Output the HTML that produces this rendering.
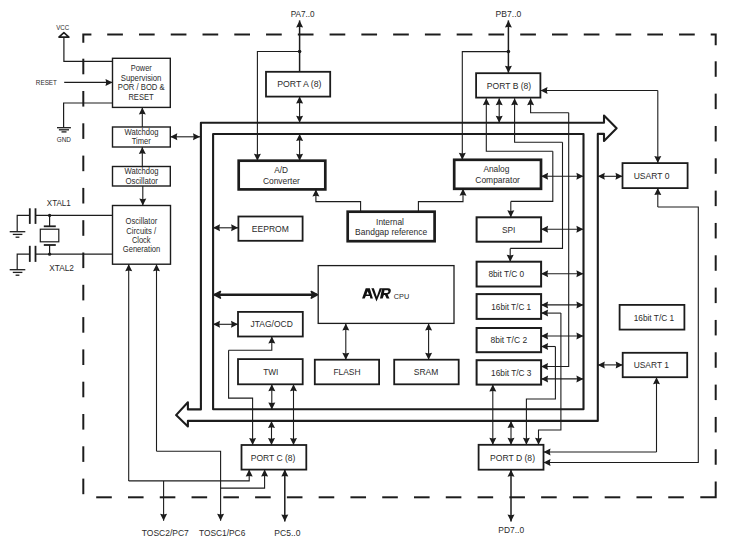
<!DOCTYPE html>
<html><head><meta charset="utf-8"><style>
html,body{margin:0;padding:0;background:#fff;}
svg{display:block;}
text{font-family:"Liberation Sans",sans-serif;}
</style></head><body>
<svg width="734" height="544" viewBox="0 0 734 544">
<rect width="734" height="544" fill="#fff"/>
<path d="M83.30,42.80 L83.30,34.50 L91.40,34.50" fill="none" stroke="#1c1c1c" stroke-width="2.0" stroke-linejoin="miter" stroke-linecap="butt"/>
<path d="M107.20,34.50 L122.90,34.50" fill="none" stroke="#1c1c1c" stroke-width="2.0" stroke-linejoin="miter" stroke-linecap="butt"/>
<path d="M138.97,34.50 L154.67,34.50" fill="none" stroke="#1c1c1c" stroke-width="2.0" stroke-linejoin="miter" stroke-linecap="butt"/>
<path d="M170.74,34.50 L186.44,34.50" fill="none" stroke="#1c1c1c" stroke-width="2.0" stroke-linejoin="miter" stroke-linecap="butt"/>
<path d="M202.51,34.50 L218.21,34.50" fill="none" stroke="#1c1c1c" stroke-width="2.0" stroke-linejoin="miter" stroke-linecap="butt"/>
<path d="M234.28,34.50 L249.98,34.50" fill="none" stroke="#1c1c1c" stroke-width="2.0" stroke-linejoin="miter" stroke-linecap="butt"/>
<path d="M266.05,34.50 L281.75,34.50" fill="none" stroke="#1c1c1c" stroke-width="2.0" stroke-linejoin="miter" stroke-linecap="butt"/>
<path d="M297.82,34.50 L313.52,34.50" fill="none" stroke="#1c1c1c" stroke-width="2.0" stroke-linejoin="miter" stroke-linecap="butt"/>
<path d="M329.59,34.50 L345.29,34.50" fill="none" stroke="#1c1c1c" stroke-width="2.0" stroke-linejoin="miter" stroke-linecap="butt"/>
<path d="M361.36,34.50 L377.06,34.50" fill="none" stroke="#1c1c1c" stroke-width="2.0" stroke-linejoin="miter" stroke-linecap="butt"/>
<path d="M393.13,34.50 L408.83,34.50" fill="none" stroke="#1c1c1c" stroke-width="2.0" stroke-linejoin="miter" stroke-linecap="butt"/>
<path d="M424.90,34.50 L440.60,34.50" fill="none" stroke="#1c1c1c" stroke-width="2.0" stroke-linejoin="miter" stroke-linecap="butt"/>
<path d="M456.67,34.50 L472.37,34.50" fill="none" stroke="#1c1c1c" stroke-width="2.0" stroke-linejoin="miter" stroke-linecap="butt"/>
<path d="M488.44,34.50 L504.14,34.50" fill="none" stroke="#1c1c1c" stroke-width="2.0" stroke-linejoin="miter" stroke-linecap="butt"/>
<path d="M520.21,34.50 L535.91,34.50" fill="none" stroke="#1c1c1c" stroke-width="2.0" stroke-linejoin="miter" stroke-linecap="butt"/>
<path d="M551.98,34.50 L567.68,34.50" fill="none" stroke="#1c1c1c" stroke-width="2.0" stroke-linejoin="miter" stroke-linecap="butt"/>
<path d="M583.75,34.50 L599.45,34.50" fill="none" stroke="#1c1c1c" stroke-width="2.0" stroke-linejoin="miter" stroke-linecap="butt"/>
<path d="M615.52,34.50 L631.22,34.50" fill="none" stroke="#1c1c1c" stroke-width="2.0" stroke-linejoin="miter" stroke-linecap="butt"/>
<path d="M647.29,34.50 L662.99,34.50" fill="none" stroke="#1c1c1c" stroke-width="2.0" stroke-linejoin="miter" stroke-linecap="butt"/>
<path d="M679.06,34.50 L694.76,34.50" fill="none" stroke="#1c1c1c" stroke-width="2.0" stroke-linejoin="miter" stroke-linecap="butt"/>
<path d="M710.70,34.50 L715.70,34.50 L715.70,45.20" fill="none" stroke="#1c1c1c" stroke-width="2.0" stroke-linejoin="miter" stroke-linecap="butt"/>
<path d="M715.70,61.30 L715.70,76.80" fill="none" stroke="#1c1c1c" stroke-width="2.0" stroke-linejoin="miter" stroke-linecap="butt"/>
<path d="M715.70,93.63 L715.70,109.13" fill="none" stroke="#1c1c1c" stroke-width="2.0" stroke-linejoin="miter" stroke-linecap="butt"/>
<path d="M715.70,125.96 L715.70,141.46" fill="none" stroke="#1c1c1c" stroke-width="2.0" stroke-linejoin="miter" stroke-linecap="butt"/>
<path d="M715.70,158.29 L715.70,173.79" fill="none" stroke="#1c1c1c" stroke-width="2.0" stroke-linejoin="miter" stroke-linecap="butt"/>
<path d="M715.70,190.62 L715.70,206.12" fill="none" stroke="#1c1c1c" stroke-width="2.0" stroke-linejoin="miter" stroke-linecap="butt"/>
<path d="M715.70,222.95 L715.70,238.45" fill="none" stroke="#1c1c1c" stroke-width="2.0" stroke-linejoin="miter" stroke-linecap="butt"/>
<path d="M715.70,255.28 L715.70,270.78" fill="none" stroke="#1c1c1c" stroke-width="2.0" stroke-linejoin="miter" stroke-linecap="butt"/>
<path d="M715.70,287.61 L715.70,303.11" fill="none" stroke="#1c1c1c" stroke-width="2.0" stroke-linejoin="miter" stroke-linecap="butt"/>
<path d="M715.70,319.94 L715.70,335.44" fill="none" stroke="#1c1c1c" stroke-width="2.0" stroke-linejoin="miter" stroke-linecap="butt"/>
<path d="M715.70,352.27 L715.70,367.77" fill="none" stroke="#1c1c1c" stroke-width="2.0" stroke-linejoin="miter" stroke-linecap="butt"/>
<path d="M715.70,384.60 L715.70,400.10" fill="none" stroke="#1c1c1c" stroke-width="2.0" stroke-linejoin="miter" stroke-linecap="butt"/>
<path d="M715.70,416.93 L715.70,432.43" fill="none" stroke="#1c1c1c" stroke-width="2.0" stroke-linejoin="miter" stroke-linecap="butt"/>
<path d="M715.70,449.26 L715.70,464.76" fill="none" stroke="#1c1c1c" stroke-width="2.0" stroke-linejoin="miter" stroke-linecap="butt"/>
<path d="M715.70,481.60 L715.70,497.30 L700.30,497.30" fill="none" stroke="#1c1c1c" stroke-width="2.0" stroke-linejoin="miter" stroke-linecap="butt"/>
<path d="M96.20,497.30 L111.80,497.30" fill="none" stroke="#1c1c1c" stroke-width="2.0" stroke-linejoin="miter" stroke-linecap="butt"/>
<path d="M127.98,497.30 L143.58,497.30" fill="none" stroke="#1c1c1c" stroke-width="2.0" stroke-linejoin="miter" stroke-linecap="butt"/>
<path d="M159.76,497.30 L175.36,497.30" fill="none" stroke="#1c1c1c" stroke-width="2.0" stroke-linejoin="miter" stroke-linecap="butt"/>
<path d="M191.54,497.30 L207.14,497.30" fill="none" stroke="#1c1c1c" stroke-width="2.0" stroke-linejoin="miter" stroke-linecap="butt"/>
<path d="M223.32,497.30 L238.92,497.30" fill="none" stroke="#1c1c1c" stroke-width="2.0" stroke-linejoin="miter" stroke-linecap="butt"/>
<path d="M255.10,497.30 L270.70,497.30" fill="none" stroke="#1c1c1c" stroke-width="2.0" stroke-linejoin="miter" stroke-linecap="butt"/>
<path d="M286.88,497.30 L302.48,497.30" fill="none" stroke="#1c1c1c" stroke-width="2.0" stroke-linejoin="miter" stroke-linecap="butt"/>
<path d="M318.66,497.30 L334.26,497.30" fill="none" stroke="#1c1c1c" stroke-width="2.0" stroke-linejoin="miter" stroke-linecap="butt"/>
<path d="M350.44,497.30 L366.04,497.30" fill="none" stroke="#1c1c1c" stroke-width="2.0" stroke-linejoin="miter" stroke-linecap="butt"/>
<path d="M382.22,497.30 L397.82,497.30" fill="none" stroke="#1c1c1c" stroke-width="2.0" stroke-linejoin="miter" stroke-linecap="butt"/>
<path d="M414.00,497.30 L429.60,497.30" fill="none" stroke="#1c1c1c" stroke-width="2.0" stroke-linejoin="miter" stroke-linecap="butt"/>
<path d="M445.78,497.30 L461.38,497.30" fill="none" stroke="#1c1c1c" stroke-width="2.0" stroke-linejoin="miter" stroke-linecap="butt"/>
<path d="M477.56,497.30 L493.16,497.30" fill="none" stroke="#1c1c1c" stroke-width="2.0" stroke-linejoin="miter" stroke-linecap="butt"/>
<path d="M509.34,497.30 L524.94,497.30" fill="none" stroke="#1c1c1c" stroke-width="2.0" stroke-linejoin="miter" stroke-linecap="butt"/>
<path d="M541.12,497.30 L556.72,497.30" fill="none" stroke="#1c1c1c" stroke-width="2.0" stroke-linejoin="miter" stroke-linecap="butt"/>
<path d="M572.90,497.30 L588.50,497.30" fill="none" stroke="#1c1c1c" stroke-width="2.0" stroke-linejoin="miter" stroke-linecap="butt"/>
<path d="M604.68,497.30 L620.28,497.30" fill="none" stroke="#1c1c1c" stroke-width="2.0" stroke-linejoin="miter" stroke-linecap="butt"/>
<path d="M636.46,497.30 L652.06,497.30" fill="none" stroke="#1c1c1c" stroke-width="2.0" stroke-linejoin="miter" stroke-linecap="butt"/>
<path d="M668.24,497.30 L683.84,497.30" fill="none" stroke="#1c1c1c" stroke-width="2.0" stroke-linejoin="miter" stroke-linecap="butt"/>
<path d="M83.30,58.70 L83.30,74.30" fill="none" stroke="#1c1c1c" stroke-width="2.0" stroke-linejoin="miter" stroke-linecap="butt"/>
<path d="M83.30,91.00 L83.30,106.60" fill="none" stroke="#1c1c1c" stroke-width="2.0" stroke-linejoin="miter" stroke-linecap="butt"/>
<path d="M83.30,123.30 L83.30,138.90" fill="none" stroke="#1c1c1c" stroke-width="2.0" stroke-linejoin="miter" stroke-linecap="butt"/>
<path d="M83.30,155.60 L83.30,171.20" fill="none" stroke="#1c1c1c" stroke-width="2.0" stroke-linejoin="miter" stroke-linecap="butt"/>
<path d="M83.30,187.90 L83.30,203.50" fill="none" stroke="#1c1c1c" stroke-width="2.0" stroke-linejoin="miter" stroke-linecap="butt"/>
<path d="M83.30,220.20 L83.30,235.80" fill="none" stroke="#1c1c1c" stroke-width="2.0" stroke-linejoin="miter" stroke-linecap="butt"/>
<path d="M83.30,252.50 L83.30,268.10" fill="none" stroke="#1c1c1c" stroke-width="2.0" stroke-linejoin="miter" stroke-linecap="butt"/>
<path d="M83.30,284.80 L83.30,300.40" fill="none" stroke="#1c1c1c" stroke-width="2.0" stroke-linejoin="miter" stroke-linecap="butt"/>
<path d="M83.30,317.10 L83.30,332.70" fill="none" stroke="#1c1c1c" stroke-width="2.0" stroke-linejoin="miter" stroke-linecap="butt"/>
<path d="M83.30,349.40 L83.30,365.00" fill="none" stroke="#1c1c1c" stroke-width="2.0" stroke-linejoin="miter" stroke-linecap="butt"/>
<path d="M83.30,381.70 L83.30,397.30" fill="none" stroke="#1c1c1c" stroke-width="2.0" stroke-linejoin="miter" stroke-linecap="butt"/>
<path d="M83.30,414.00 L83.30,429.60" fill="none" stroke="#1c1c1c" stroke-width="2.0" stroke-linejoin="miter" stroke-linecap="butt"/>
<path d="M83.30,446.30 L83.30,461.90" fill="none" stroke="#1c1c1c" stroke-width="2.0" stroke-linejoin="miter" stroke-linecap="butt"/>
<path d="M83.30,478.60 L83.30,494.20" fill="none" stroke="#1c1c1c" stroke-width="2.0" stroke-linejoin="miter" stroke-linecap="butt"/>
<path d="M63.9,32.6 L68.9,37.1 L58.9,37.1 Z" fill="#fff" stroke="#1c1c1c" stroke-width="1.6" stroke-linejoin="round"/>
<path d="M63.90,37.10 L63.90,61.30 L112.50,61.30" fill="none" stroke="#1c1c1c" stroke-width="1.2" stroke-linejoin="miter" stroke-linecap="butt"/>
<path d="M64.20,82.40 L112.50,82.40" fill="none" stroke="#1c1c1c" stroke-width="1.2" stroke-linejoin="miter" stroke-linecap="butt"/>
<path d="M112.50,82.40 L105.50,85.90 L106.20,82.40 L105.50,78.90 Z" fill="#1c1c1c"/>
<path d="M112.50,103.00 L63.60,103.00 L63.60,127.60" fill="none" stroke="#1c1c1c" stroke-width="1.2" stroke-linejoin="miter" stroke-linecap="butt"/>
<path d="M57.00,127.70 L70.90,127.70" fill="none" stroke="#1c1c1c" stroke-width="1.3" stroke-linejoin="miter" stroke-linecap="butt"/>
<path d="M58.90,129.80 L69.00,129.80" fill="none" stroke="#1c1c1c" stroke-width="1.3" stroke-linejoin="miter" stroke-linecap="butt"/>
<path d="M61.50,131.90 L66.50,131.90" fill="none" stroke="#1c1c1c" stroke-width="1.3" stroke-linejoin="miter" stroke-linecap="butt"/>
<text x="56.20" y="29.77" font-size="6.3" textLength="13.00" lengthAdjust="spacingAndGlyphs" fill="#2a2a2a">VCC</text>
<text x="35.80" y="84.82" font-size="6.3" textLength="21.20" lengthAdjust="spacingAndGlyphs" fill="#2a2a2a">RESET</text>
<text x="56.70" y="141.82" font-size="6.3" textLength="14.20" lengthAdjust="spacingAndGlyphs" fill="#2a2a2a">GND</text>
<rect x="112.50" y="58.30" width="57.80" height="49.10" fill="none" stroke="#1c1c1c" stroke-width="1.4"/>
<text x="130.70" y="71.30" font-size="8.6" textLength="21.10" lengthAdjust="spacingAndGlyphs" fill="#2a2a2a">Power</text>
<text x="120.80" y="80.70" font-size="8.6" textLength="40.60" lengthAdjust="spacingAndGlyphs" fill="#2a2a2a">Supervision</text>
<text x="117.80" y="90.20" font-size="8.6" textLength="46.80" lengthAdjust="spacingAndGlyphs" fill="#2a2a2a">POR / BOD &amp;</text>
<text x="128.40" y="99.90" font-size="8.6" textLength="25.20" lengthAdjust="spacingAndGlyphs" fill="#2a2a2a">RESET</text>
<rect x="112.50" y="127.00" width="57.80" height="20.00" fill="none" stroke="#1c1c1c" stroke-width="1.4"/>
<text x="124.50" y="135.30" font-size="8.6" textLength="34.10" lengthAdjust="spacingAndGlyphs" fill="#2a2a2a">Watchdog</text>
<text x="131.70" y="144.30" font-size="8.6" textLength="19.10" lengthAdjust="spacingAndGlyphs" fill="#2a2a2a">Timer</text>
<rect x="112.50" y="166.50" width="57.80" height="19.50" fill="none" stroke="#1c1c1c" stroke-width="1.4"/>
<text x="124.50" y="174.10" font-size="8.6" textLength="34.10" lengthAdjust="spacingAndGlyphs" fill="#2a2a2a">Watchdog</text>
<text x="125.40" y="183.90" font-size="8.6" textLength="32.60" lengthAdjust="spacingAndGlyphs" fill="#2a2a2a">Oscillator</text>
<rect x="112.50" y="205.50" width="58.00" height="58.70" fill="none" stroke="#1c1c1c" stroke-width="1.4"/>
<text x="125.50" y="224.40" font-size="8.6" textLength="31.70" lengthAdjust="spacingAndGlyphs" fill="#2a2a2a">Oscillator</text>
<text x="126.30" y="233.50" font-size="8.6" textLength="29.80" lengthAdjust="spacingAndGlyphs" fill="#2a2a2a">Circuits /</text>
<text x="131.90" y="243.10" font-size="8.6" textLength="18.68" lengthAdjust="spacingAndGlyphs" fill="#2a2a2a">Clock</text>
<text x="122.80" y="252.20" font-size="8.6" textLength="37.50" lengthAdjust="spacingAndGlyphs" fill="#2a2a2a">Generation</text>
<path d="M142.30,127.00 L142.30,107.40" fill="none" stroke="#1c1c1c" stroke-width="1.1" stroke-linejoin="miter" stroke-linecap="butt"/>
<path d="M142.30,107.40 L145.80,114.40 L142.30,113.70 L138.80,114.40 Z" fill="#1c1c1c"/>
<path d="M142.30,166.50 L142.30,147.00" fill="none" stroke="#1c1c1c" stroke-width="1.1" stroke-linejoin="miter" stroke-linecap="butt"/>
<path d="M142.30,147.00 L145.80,154.00 L142.30,153.30 L138.80,154.00 Z" fill="#1c1c1c"/>
<path d="M142.80,186.00 L142.80,205.50" fill="none" stroke="#1c1c1c" stroke-width="1.1" stroke-linejoin="miter" stroke-linecap="butt"/>
<path d="M142.80,205.50 L139.30,198.50 L142.80,199.20 L146.30,198.50 Z" fill="#1c1c1c"/>
<path d="M170.30,136.80 L200.00,136.80" fill="none" stroke="#1c1c1c" stroke-width="1.1" stroke-linejoin="miter" stroke-linecap="butt"/>
<path d="M200.00,136.80 L193.00,140.30 L193.70,136.80 L193.00,133.30 Z" fill="#1c1c1c"/>
<path d="M170.30,136.80 L177.30,133.30 L176.60,136.80 L177.30,140.30 Z" fill="#1c1c1c"/>
<path d="M35.50,215.40 L112.50,215.40" fill="none" stroke="#1c1c1c" stroke-width="1.2" stroke-linejoin="miter" stroke-linecap="butt"/>
<path d="M35.50,254.20 L112.50,254.20" fill="none" stroke="#1c1c1c" stroke-width="1.2" stroke-linejoin="miter" stroke-linecap="butt"/>
<circle cx="49.6" cy="215.4" r="1.6" fill="#1c1c1c"/>
<circle cx="49.6" cy="254.2" r="1.6" fill="#1c1c1c"/>
<path d="M29.80,208.30 L29.80,223.90" fill="none" stroke="#1c1c1c" stroke-width="1.8" stroke-linejoin="miter" stroke-linecap="butt"/>
<path d="M35.50,208.30 L35.50,223.90" fill="none" stroke="#1c1c1c" stroke-width="1.8" stroke-linejoin="miter" stroke-linecap="butt"/>
<path d="M29.80,215.40 L17.20,215.40 L17.20,231.70" fill="none" stroke="#1c1c1c" stroke-width="1.2" stroke-linejoin="miter" stroke-linecap="butt"/>
<path d="M9.70,231.70 L25.30,231.70" fill="none" stroke="#1c1c1c" stroke-width="1.3" stroke-linejoin="miter" stroke-linecap="butt"/>
<path d="M12.80,234.40 L22.40,234.40" fill="none" stroke="#1c1c1c" stroke-width="1.3" stroke-linejoin="miter" stroke-linecap="butt"/>
<path d="M15.60,237.20 L19.40,237.20" fill="none" stroke="#1c1c1c" stroke-width="1.3" stroke-linejoin="miter" stroke-linecap="butt"/>
<path d="M29.80,245.80 L29.80,261.90" fill="none" stroke="#1c1c1c" stroke-width="1.8" stroke-linejoin="miter" stroke-linecap="butt"/>
<path d="M35.50,245.80 L35.50,261.90" fill="none" stroke="#1c1c1c" stroke-width="1.8" stroke-linejoin="miter" stroke-linecap="butt"/>
<path d="M29.80,254.20 L17.20,254.20 L17.20,269.70" fill="none" stroke="#1c1c1c" stroke-width="1.2" stroke-linejoin="miter" stroke-linecap="butt"/>
<path d="M9.70,269.70 L25.30,269.70" fill="none" stroke="#1c1c1c" stroke-width="1.3" stroke-linejoin="miter" stroke-linecap="butt"/>
<path d="M12.80,272.40 L22.40,272.40" fill="none" stroke="#1c1c1c" stroke-width="1.3" stroke-linejoin="miter" stroke-linecap="butt"/>
<path d="M15.60,275.20 L19.40,275.20" fill="none" stroke="#1c1c1c" stroke-width="1.3" stroke-linejoin="miter" stroke-linecap="butt"/>
<path d="M49.60,215.40 L49.60,226.30" fill="none" stroke="#1c1c1c" stroke-width="1.2" stroke-linejoin="miter" stroke-linecap="butt"/>
<path d="M43.80,226.30 L55.80,226.30" fill="none" stroke="#1c1c1c" stroke-width="1.8" stroke-linejoin="miter" stroke-linecap="butt"/>
<rect x="40.3" y="229.2" width="18.5" height="12.6" fill="none" stroke="#1c1c1c" stroke-width="1.2"/>
<path d="M43.80,245.00 L55.80,245.00" fill="none" stroke="#1c1c1c" stroke-width="1.8" stroke-linejoin="miter" stroke-linecap="butt"/>
<path d="M49.60,245.00 L49.60,254.20" fill="none" stroke="#1c1c1c" stroke-width="1.2" stroke-linejoin="miter" stroke-linecap="butt"/>
<text x="46.80" y="205.74" font-size="8.3" textLength="24.00" lengthAdjust="spacingAndGlyphs" fill="#2a2a2a">XTAL1</text>
<text x="49.20" y="270.99" font-size="8.3" textLength="24.70" lengthAdjust="spacingAndGlyphs" fill="#2a2a2a">XTAL2</text>
<path d="M200.9,409.4 V122.8 H604 V115.6 L616.6,128.3 L604,141.0 V133.9 H597.8 V420.9 H187.9 V426.4 L176.1,415.1 L187.9,402.3 V409.4 Z" fill="none" stroke="#1c1c1c" stroke-width="2.1" stroke-linejoin="round"/>
<rect x="213.1" y="134.0" width="370.4" height="275.3" fill="none" stroke="#1c1c1c" stroke-width="2.1" stroke-linejoin="round"/>
<rect x="266.00" y="71.80" width="64.20" height="24.80" fill="none" stroke="#1c1c1c" stroke-width="1.8"/>
<text x="277.20" y="86.90" font-size="8.6" textLength="44.30" lengthAdjust="spacingAndGlyphs" fill="#2a2a2a">PORT A (8)</text>
<rect x="476.10" y="73.20" width="64.30" height="24.40" fill="none" stroke="#1c1c1c" stroke-width="1.8"/>
<text x="486.80" y="88.90" font-size="8.6" textLength="44.40" lengthAdjust="spacingAndGlyphs" fill="#2a2a2a">PORT B (8)</text>
<path d="M299.60,71.80 L299.60,20.40" fill="none" stroke="#1c1c1c" stroke-width="1.5" stroke-linejoin="miter" stroke-linecap="butt"/>
<path d="M299.60,20.40 L303.10,27.40 L299.60,26.70 L296.10,27.40 Z" fill="#1c1c1c"/>
<circle cx="299.6" cy="51.5" r="1.8" fill="#1c1c1c"/>
<path d="M299.60,51.50 L257.40,51.50 L257.40,160.70" fill="none" stroke="#1c1c1c" stroke-width="1.1" stroke-linejoin="miter" stroke-linecap="butt"/>
<path d="M257.40,160.70 L253.90,153.70 L257.40,154.40 L260.90,153.70 Z" fill="#1c1c1c"/>
<path d="M299.60,96.60 L299.60,122.80" fill="none" stroke="#1c1c1c" stroke-width="1.1" stroke-linejoin="miter" stroke-linecap="butt"/>
<path d="M299.60,122.80 L296.10,115.80 L299.60,116.50 L303.10,115.80 Z" fill="#1c1c1c"/>
<path d="M299.60,96.60 L303.10,103.60 L299.60,102.90 L296.10,103.60 Z" fill="#1c1c1c"/>
<path d="M299.60,133.90 L299.60,160.70" fill="none" stroke="#1c1c1c" stroke-width="1.1" stroke-linejoin="miter" stroke-linecap="butt"/>
<path d="M299.60,160.70 L296.10,153.70 L299.60,154.40 L303.10,153.70 Z" fill="#1c1c1c"/>
<path d="M299.60,133.90 L303.10,140.90 L299.60,140.20 L296.10,140.90 Z" fill="#1c1c1c"/>
<path d="M508.40,51.60 L508.40,20.40" fill="none" stroke="#1c1c1c" stroke-width="1.5" stroke-linejoin="miter" stroke-linecap="butt"/>
<path d="M508.40,20.40 L511.90,27.40 L508.40,26.70 L504.90,27.40 Z" fill="#1c1c1c"/>
<path d="M508.40,51.60 L508.40,72.80" fill="none" stroke="#1c1c1c" stroke-width="1.5" stroke-linejoin="miter" stroke-linecap="butt"/>
<path d="M508.40,72.80 L504.90,65.80 L508.40,66.50 L511.90,65.80 Z" fill="#1c1c1c"/>
<circle cx="508.4" cy="51.6" r="1.8" fill="#1c1c1c"/>
<path d="M508.40,51.60 L462.30,51.60 L462.30,159.80" fill="none" stroke="#1c1c1c" stroke-width="1.1" stroke-linejoin="miter" stroke-linecap="butt"/>
<path d="M462.30,159.80 L458.80,152.80 L462.30,153.50 L465.80,152.80 Z" fill="#1c1c1c"/>
<path d="M499.20,98.20 L499.20,122.80" fill="none" stroke="#1c1c1c" stroke-width="1.1" stroke-linejoin="miter" stroke-linecap="butt"/>
<path d="M499.20,122.80 L495.70,115.80 L499.20,116.50 L502.70,115.80 Z" fill="#1c1c1c"/>
<path d="M499.20,98.20 L502.70,105.20 L499.20,104.50 L495.70,105.20 Z" fill="#1c1c1c"/>
<path d="M552.80,151.30 L486.30,151.30 L486.30,98.20" fill="none" stroke="#1c1c1c" stroke-width="1.1" stroke-linejoin="miter" stroke-linecap="butt"/>
<path d="M486.30,98.20 L489.80,105.20 L486.30,104.50 L482.80,105.20 Z" fill="#1c1c1c"/>
<path d="M552.80,151.30 L552.80,201.40 L510.80,201.40" fill="none" stroke="#1c1c1c" stroke-width="1.1" stroke-linejoin="miter" stroke-linecap="butt"/>
<path d="M510.80,201.40 L510.80,217.30" fill="none" stroke="#1c1c1c" stroke-width="1.1" stroke-linejoin="miter" stroke-linecap="butt"/>
<path d="M510.80,217.30 L507.30,210.30 L510.80,211.00 L514.30,210.30 Z" fill="#1c1c1c"/>
<path d="M562.50,142.30 L514.60,142.30 L514.60,98.20" fill="none" stroke="#1c1c1c" stroke-width="1.1" stroke-linejoin="miter" stroke-linecap="butt"/>
<path d="M514.60,98.20 L518.10,105.20 L514.60,104.50 L511.10,105.20 Z" fill="#1c1c1c"/>
<path d="M562.50,142.30 L562.50,248.40 L510.20,248.40" fill="none" stroke="#1c1c1c" stroke-width="1.1" stroke-linejoin="miter" stroke-linecap="butt"/>
<path d="M510.20,248.40 L510.20,261.70" fill="none" stroke="#1c1c1c" stroke-width="1.1" stroke-linejoin="miter" stroke-linecap="butt"/>
<path d="M510.20,261.70 L506.70,254.70 L510.20,255.40 L513.70,254.70 Z" fill="#1c1c1c"/>
<path d="M568.70,112.70 L530.60,112.70 L530.60,98.20" fill="none" stroke="#1c1c1c" stroke-width="1.1" stroke-linejoin="miter" stroke-linecap="butt"/>
<path d="M530.60,98.20 L534.10,105.20 L530.60,104.50 L527.10,105.20 Z" fill="#1c1c1c"/>
<path d="M568.70,112.70 L568.70,366.50 L541.00,366.50" fill="none" stroke="#1c1c1c" stroke-width="1.1" stroke-linejoin="miter" stroke-linecap="butt"/>
<path d="M541.00,366.50 L548.00,363.00 L547.30,366.50 L548.00,370.00 Z" fill="#1c1c1c"/>
<rect x="238.70" y="160.70" width="86.60" height="28.70" fill="none" stroke="#1c1c1c" stroke-width="2.7"/>
<text x="274.20" y="173.30" font-size="8.6" textLength="13.80" lengthAdjust="spacingAndGlyphs" fill="#2a2a2a">A/D</text>
<text x="262.90" y="184.10" font-size="8.6" textLength="37.00" lengthAdjust="spacingAndGlyphs" fill="#2a2a2a">Converter</text>
<rect x="454.20" y="159.80" width="86.80" height="29.00" fill="none" stroke="#1c1c1c" stroke-width="2.7"/>
<text x="483.40" y="172.10" font-size="8.6" textLength="26.00" lengthAdjust="spacingAndGlyphs" fill="#2a2a2a">Analog</text>
<text x="475.30" y="183.30" font-size="8.6" textLength="44.60" lengthAdjust="spacingAndGlyphs" fill="#2a2a2a">Comparator</text>
<rect x="347.70" y="211.70" width="86.90" height="29.50" fill="none" stroke="#1c1c1c" stroke-width="2.7"/>
<text x="376.10" y="225.00" font-size="8.6" textLength="27.80" lengthAdjust="spacingAndGlyphs" fill="#2a2a2a">Internal</text>
<text x="355.10" y="235.30" font-size="8.6" textLength="72.10" lengthAdjust="spacingAndGlyphs" fill="#2a2a2a">Bandgap reference</text>
<path d="M360.60,211.70 L360.60,201.60 L315.90,201.60 L315.90,189.40" fill="none" stroke="#1c1c1c" stroke-width="1.1" stroke-linejoin="miter" stroke-linecap="butt"/>
<path d="M315.90,189.40 L319.40,196.40 L315.90,195.70 L312.40,196.40 Z" fill="#1c1c1c"/>
<path d="M418.40,211.70 L418.40,201.60 L463.00,201.60 L463.00,188.80" fill="none" stroke="#1c1c1c" stroke-width="1.1" stroke-linejoin="miter" stroke-linecap="butt"/>
<path d="M463.00,188.80 L466.50,195.80 L463.00,195.10 L459.50,195.80 Z" fill="#1c1c1c"/>
<rect x="476.60" y="217.30" width="64.50" height="24.40" fill="none" stroke="#1c1c1c" stroke-width="2.0"/>
<text x="501.90" y="232.90" font-size="8.6" textLength="13.40" lengthAdjust="spacingAndGlyphs" fill="#2a2a2a">SPI</text>
<rect x="476.60" y="261.70" width="64.50" height="24.80" fill="none" stroke="#1c1c1c" stroke-width="2.0"/>
<text x="488.40" y="277.00" font-size="8.6" textLength="35.80" lengthAdjust="spacingAndGlyphs" fill="#2a2a2a">8bit T/C 0</text>
<rect x="476.60" y="294.10" width="64.50" height="24.80" fill="none" stroke="#1c1c1c" stroke-width="2.0"/>
<text x="491.30" y="310.10" font-size="8.6" textLength="39.80" lengthAdjust="spacingAndGlyphs" fill="#2a2a2a">16bit T/C 1</text>
<rect x="476.60" y="328.00" width="64.50" height="24.20" fill="none" stroke="#1c1c1c" stroke-width="2.0"/>
<text x="490.50" y="342.90" font-size="8.6" textLength="36.60" lengthAdjust="spacingAndGlyphs" fill="#2a2a2a">8bit T/C 2</text>
<rect x="476.60" y="360.20" width="64.50" height="24.40" fill="none" stroke="#1c1c1c" stroke-width="2.0"/>
<text x="491.10" y="375.90" font-size="8.6" textLength="40.40" lengthAdjust="spacingAndGlyphs" fill="#2a2a2a">16bit T/C 3</text>
<path d="M541.10,176.20 L583.40,176.20" fill="none" stroke="#1c1c1c" stroke-width="1.1" stroke-linejoin="miter" stroke-linecap="butt"/>
<path d="M583.40,176.20 L576.40,179.70 L577.10,176.20 L576.40,172.70 Z" fill="#1c1c1c"/>
<path d="M541.10,176.20 L548.10,172.70 L547.40,176.20 L548.10,179.70 Z" fill="#1c1c1c"/>
<path d="M541.10,229.30 L583.40,229.30" fill="none" stroke="#1c1c1c" stroke-width="1.1" stroke-linejoin="miter" stroke-linecap="butt"/>
<path d="M583.40,229.30 L576.40,232.80 L577.10,229.30 L576.40,225.80 Z" fill="#1c1c1c"/>
<path d="M541.10,229.30 L548.10,225.80 L547.40,229.30 L548.10,232.80 Z" fill="#1c1c1c"/>
<path d="M541.10,273.70 L583.40,273.70" fill="none" stroke="#1c1c1c" stroke-width="1.1" stroke-linejoin="miter" stroke-linecap="butt"/>
<path d="M583.40,273.70 L576.40,277.20 L577.10,273.70 L576.40,270.20 Z" fill="#1c1c1c"/>
<path d="M541.10,273.70 L548.10,270.20 L547.40,273.70 L548.10,277.20 Z" fill="#1c1c1c"/>
<path d="M541.10,304.90 L583.40,304.90" fill="none" stroke="#1c1c1c" stroke-width="1.1" stroke-linejoin="miter" stroke-linecap="butt"/>
<path d="M583.40,304.90 L576.40,308.40 L577.10,304.90 L576.40,301.40 Z" fill="#1c1c1c"/>
<path d="M541.10,304.90 L548.10,301.40 L547.40,304.90 L548.10,308.40 Z" fill="#1c1c1c"/>
<path d="M541.10,336.00 L583.40,336.00" fill="none" stroke="#1c1c1c" stroke-width="1.1" stroke-linejoin="miter" stroke-linecap="butt"/>
<path d="M583.40,336.00 L576.40,339.50 L577.10,336.00 L576.40,332.50 Z" fill="#1c1c1c"/>
<path d="M541.10,336.00 L548.10,332.50 L547.40,336.00 L548.10,339.50 Z" fill="#1c1c1c"/>
<path d="M541.10,378.90 L583.40,378.90" fill="none" stroke="#1c1c1c" stroke-width="1.1" stroke-linejoin="miter" stroke-linecap="butt"/>
<path d="M583.40,378.90 L576.40,382.40 L577.10,378.90 L576.40,375.40 Z" fill="#1c1c1c"/>
<path d="M541.10,378.90 L548.10,375.40 L547.40,378.90 L548.10,382.40 Z" fill="#1c1c1c"/>
<path d="M560.90,313.10 L541.10,313.10" fill="none" stroke="#1c1c1c" stroke-width="1.1" stroke-linejoin="miter" stroke-linecap="butt"/>
<path d="M541.10,313.10 L548.10,309.60 L547.40,313.10 L548.10,316.60 Z" fill="#1c1c1c"/>
<path d="M560.90,313.10 L560.90,430.00 L538.50,430.00 L538.50,444.80" fill="none" stroke="#1c1c1c" stroke-width="1.1" stroke-linejoin="miter" stroke-linecap="butt"/>
<path d="M538.50,444.80 L535.00,437.80 L538.50,438.50 L542.00,437.80 Z" fill="#1c1c1c"/>
<path d="M555.40,346.50 L541.10,346.50" fill="none" stroke="#1c1c1c" stroke-width="1.1" stroke-linejoin="miter" stroke-linecap="butt"/>
<path d="M541.10,346.50 L548.10,343.00 L547.40,346.50 L548.10,350.00 Z" fill="#1c1c1c"/>
<path d="M555.40,346.50 L555.40,399.00 L526.40,399.00 L526.40,444.80" fill="none" stroke="#1c1c1c" stroke-width="1.1" stroke-linejoin="miter" stroke-linecap="butt"/>
<path d="M526.40,444.80 L522.90,437.80 L526.40,438.50 L529.90,437.80 Z" fill="#1c1c1c"/>
<path d="M492.80,384.60 L492.80,444.80" fill="none" stroke="#1c1c1c" stroke-width="1.1" stroke-linejoin="miter" stroke-linecap="butt"/>
<path d="M492.80,444.80 L489.30,437.80 L492.80,438.50 L496.30,437.80 Z" fill="#1c1c1c"/>
<path d="M492.80,384.60 L496.30,391.60 L492.80,390.90 L489.30,391.60 Z" fill="#1c1c1c"/>
<rect x="622.50" y="163.10" width="65.10" height="25.00" fill="none" stroke="#1c1c1c" stroke-width="1.8"/>
<text x="633.70" y="178.70" font-size="8.6" textLength="35.80" lengthAdjust="spacingAndGlyphs" fill="#2a2a2a">USART 0</text>
<rect x="619.60" y="304.90" width="64.80" height="24.70" fill="none" stroke="#1c1c1c" stroke-width="1.8"/>
<text x="633.70" y="321.10" font-size="8.6" textLength="40.40" lengthAdjust="spacingAndGlyphs" fill="#2a2a2a">16bit T/C 1</text>
<rect x="622.70" y="352.80" width="64.50" height="24.40" fill="none" stroke="#1c1c1c" stroke-width="1.8"/>
<text x="633.70" y="368.00" font-size="8.6" textLength="35.20" lengthAdjust="spacingAndGlyphs" fill="#2a2a2a">USART 1</text>
<path d="M597.80,176.30 L622.50,176.30" fill="none" stroke="#1c1c1c" stroke-width="1.1" stroke-linejoin="miter" stroke-linecap="butt"/>
<path d="M622.50,176.30 L615.50,179.80 L616.20,176.30 L615.50,172.80 Z" fill="#1c1c1c"/>
<path d="M597.80,176.30 L604.80,172.80 L604.10,176.30 L604.80,179.80 Z" fill="#1c1c1c"/>
<path d="M597.80,364.90 L622.70,364.90" fill="none" stroke="#1c1c1c" stroke-width="1.1" stroke-linejoin="miter" stroke-linecap="butt"/>
<path d="M622.70,364.90 L615.70,368.40 L616.40,364.90 L615.70,361.40 Z" fill="#1c1c1c"/>
<path d="M597.80,364.90 L604.80,361.40 L604.10,364.90 L604.80,368.40 Z" fill="#1c1c1c"/>
<path d="M657.80,90.50 L540.50,90.50" fill="none" stroke="#1c1c1c" stroke-width="1.1" stroke-linejoin="miter" stroke-linecap="butt"/>
<path d="M540.50,90.50 L547.50,87.00 L546.80,90.50 L547.50,94.00 Z" fill="#1c1c1c"/>
<path d="M657.80,90.50 L657.80,163.10" fill="none" stroke="#1c1c1c" stroke-width="1.1" stroke-linejoin="miter" stroke-linecap="butt"/>
<path d="M657.80,163.10 L654.30,156.10 L657.80,156.80 L661.30,156.10 Z" fill="#1c1c1c"/>
<path d="M657.80,207.00 L657.80,188.10" fill="none" stroke="#1c1c1c" stroke-width="1.1" stroke-linejoin="miter" stroke-linecap="butt"/>
<path d="M657.80,188.10 L661.30,195.10 L657.80,194.40 L654.30,195.10 Z" fill="#1c1c1c"/>
<path d="M657.80,207.00 L698.30,207.00 L698.30,462.50 L543.50,462.50" fill="none" stroke="#1c1c1c" stroke-width="1.1" stroke-linejoin="miter" stroke-linecap="butt"/>
<path d="M543.50,462.50 L550.50,459.00 L549.80,462.50 L550.50,466.00 Z" fill="#1c1c1c"/>
<path d="M656.50,452.00 L543.50,452.00" fill="none" stroke="#1c1c1c" stroke-width="1.1" stroke-linejoin="miter" stroke-linecap="butt"/>
<path d="M543.50,452.00 L550.50,448.50 L549.80,452.00 L550.50,455.50 Z" fill="#1c1c1c"/>
<path d="M656.50,452.00 L656.50,377.20" fill="none" stroke="#1c1c1c" stroke-width="1.1" stroke-linejoin="miter" stroke-linecap="butt"/>
<path d="M656.50,377.20 L660.00,384.20 L656.50,383.50 L653.00,384.20 Z" fill="#1c1c1c"/>
<rect x="478.60" y="444.80" width="64.90" height="24.90" fill="none" stroke="#1c1c1c" stroke-width="1.8"/>
<text x="490.00" y="461.10" font-size="8.6" textLength="45.00" lengthAdjust="spacingAndGlyphs" fill="#2a2a2a">PORT D (8)</text>
<path d="M511.00,421.00 L511.00,444.80" fill="none" stroke="#1c1c1c" stroke-width="1.1" stroke-linejoin="miter" stroke-linecap="butt"/>
<path d="M511.00,444.80 L507.50,437.80 L511.00,438.50 L514.50,437.80 Z" fill="#1c1c1c"/>
<path d="M511.00,421.00 L514.50,428.00 L511.00,427.30 L507.50,428.00 Z" fill="#1c1c1c"/>
<path d="M511.00,469.70 L511.00,521.50" fill="none" stroke="#1c1c1c" stroke-width="1.5" stroke-linejoin="miter" stroke-linecap="butt"/>
<path d="M511.00,521.50 L507.50,514.50 L511.00,515.20 L514.50,514.50 Z" fill="#1c1c1c"/>
<path d="M511.00,469.70 L514.50,476.70 L511.00,476.00 L507.50,476.70 Z" fill="#1c1c1c"/>
<text x="498.30" y="533.00" font-size="8.6" textLength="25.80" lengthAdjust="spacingAndGlyphs" fill="#2a2a2a">PD7..0</text>
<rect x="238.40" y="216.50" width="64.20" height="24.30" fill="none" stroke="#1c1c1c" stroke-width="1.8"/>
<text x="251.80" y="231.90" font-size="8.6" textLength="37.10" lengthAdjust="spacingAndGlyphs" fill="#2a2a2a">EEPROM</text>
<path d="M213.00,227.80 L238.10,227.80" fill="none" stroke="#1c1c1c" stroke-width="1.1" stroke-linejoin="miter" stroke-linecap="butt"/>
<path d="M238.10,227.80 L231.10,231.30 L231.80,227.80 L231.10,224.30 Z" fill="#1c1c1c"/>
<path d="M213.00,227.80 L220.00,224.30 L219.30,227.80 L220.00,231.30 Z" fill="#1c1c1c"/>
<rect x="318.20" y="265.60" width="135.80" height="57.80" fill="none" stroke="#1c1c1c" stroke-width="1.3"/>
<path d="M214.50,294.80 L317.00,294.80" fill="none" stroke="#1c1c1c" stroke-width="2.6" stroke-linejoin="miter" stroke-linecap="butt"/>
<path d="M214.3,294.8 L220.4,291.5 L219.0,294.8 L220.4,298.1 Z" fill="#1c1c1c" stroke="#1c1c1c" stroke-width="1.6" stroke-linejoin="round"/>
<path d="M317.4,294.8 L311.3,291.5 L312.7,294.8 L311.3,298.1 Z" fill="#1c1c1c" stroke="#1c1c1c" stroke-width="1.6" stroke-linejoin="round"/>
<rect x="238.00" y="311.90" width="64.80" height="24.60" fill="none" stroke="#1c1c1c" stroke-width="1.8"/>
<text x="250.60" y="327.40" font-size="8.6" textLength="42.20" lengthAdjust="spacingAndGlyphs" fill="#2a2a2a">JTAG/OCD</text>
<path d="M213.00,324.30 L238.00,324.30" fill="none" stroke="#1c1c1c" stroke-width="1.1" stroke-linejoin="miter" stroke-linecap="butt"/>
<path d="M238.00,324.30 L231.00,327.80 L231.70,324.30 L231.00,320.80 Z" fill="#1c1c1c"/>
<path d="M213.00,324.30 L220.00,320.80 L219.30,324.30 L220.00,327.80 Z" fill="#1c1c1c"/>
<rect x="238.00" y="359.10" width="64.70" height="25.20" fill="none" stroke="#1c1c1c" stroke-width="1.8"/>
<text x="263.20" y="375.10" font-size="8.6" textLength="15.20" lengthAdjust="spacingAndGlyphs" fill="#2a2a2a">TWI</text>
<rect x="314.80" y="359.70" width="64.30" height="24.60" fill="none" stroke="#1c1c1c" stroke-width="1.8"/>
<text x="333.40" y="375.20" font-size="8.6" textLength="27.20" lengthAdjust="spacingAndGlyphs" fill="#2a2a2a">FLASH</text>
<rect x="394.20" y="359.70" width="64.50" height="24.60" fill="none" stroke="#1c1c1c" stroke-width="1.8"/>
<text x="413.80" y="375.20" font-size="8.6" textLength="24.60" lengthAdjust="spacingAndGlyphs" fill="#2a2a2a">SRAM</text>
<path d="M345.80,323.40 L345.80,359.70" fill="none" stroke="#1c1c1c" stroke-width="1.1" stroke-linejoin="miter" stroke-linecap="butt"/>
<path d="M345.80,359.70 L342.30,352.70 L345.80,353.40 L349.30,352.70 Z" fill="#1c1c1c"/>
<path d="M345.80,323.40 L349.30,330.40 L345.80,329.70 L342.30,330.40 Z" fill="#1c1c1c"/>
<path d="M428.60,323.40 L428.60,359.70" fill="none" stroke="#1c1c1c" stroke-width="1.1" stroke-linejoin="miter" stroke-linecap="butt"/>
<path d="M428.60,359.70 L425.10,352.70 L428.60,353.40 L432.10,352.70 Z" fill="#1c1c1c"/>
<path d="M428.60,323.40 L432.10,330.40 L428.60,329.70 L425.10,330.40 Z" fill="#1c1c1c"/>
<path d="M228.60,350.30 L271.80,350.30 L271.80,336.50" fill="none" stroke="#1c1c1c" stroke-width="1.1" stroke-linejoin="miter" stroke-linecap="butt"/>
<path d="M271.80,336.50 L275.30,343.50 L271.80,342.80 L268.30,343.50 Z" fill="#1c1c1c"/>
<path d="M228.60,350.30 L228.60,398.10 L252.60,398.10 L252.60,445.00" fill="none" stroke="#1c1c1c" stroke-width="1.1" stroke-linejoin="miter" stroke-linecap="butt"/>
<path d="M252.60,445.00 L249.10,438.00 L252.60,438.70 L256.10,438.00 Z" fill="#1c1c1c"/>
<path d="M271.80,384.30 L271.80,409.40" fill="none" stroke="#1c1c1c" stroke-width="1.1" stroke-linejoin="miter" stroke-linecap="butt"/>
<path d="M271.80,409.40 L268.30,402.40 L271.80,403.10 L275.30,402.40 Z" fill="#1c1c1c"/>
<path d="M271.80,384.30 L275.30,391.30 L271.80,390.60 L268.30,391.30 Z" fill="#1c1c1c"/>
<path d="M293.50,445.00 L293.50,384.30" fill="none" stroke="#1c1c1c" stroke-width="1.1" stroke-linejoin="miter" stroke-linecap="butt"/>
<path d="M293.50,384.30 L297.00,391.30 L293.50,390.60 L290.00,391.30 Z" fill="#1c1c1c"/>
<path d="M293.50,445.00 L290.00,438.00 L293.50,438.70 L297.00,438.00 Z" fill="#1c1c1c"/>
<rect x="241.50" y="445.00" width="64.80" height="24.60" fill="none" stroke="#1c1c1c" stroke-width="1.8"/>
<text x="250.70" y="460.70" font-size="8.6" textLength="44.70" lengthAdjust="spacingAndGlyphs" fill="#2a2a2a">PORT C (8)</text>
<path d="M271.50,421.00 L271.50,445.00" fill="none" stroke="#1c1c1c" stroke-width="1.1" stroke-linejoin="miter" stroke-linecap="butt"/>
<path d="M271.50,445.00 L268.00,438.00 L271.50,438.70 L275.00,438.00 Z" fill="#1c1c1c"/>
<path d="M271.50,421.00 L275.00,428.00 L271.50,427.30 L268.00,428.00 Z" fill="#1c1c1c"/>
<path d="M284.80,469.60 L284.80,521.40" fill="none" stroke="#1c1c1c" stroke-width="1.5" stroke-linejoin="miter" stroke-linecap="butt"/>
<path d="M284.80,521.40 L281.30,514.40 L284.80,515.10 L288.30,514.40 Z" fill="#1c1c1c"/>
<path d="M284.80,469.60 L288.30,476.60 L284.80,475.90 L281.30,476.60 Z" fill="#1c1c1c"/>
<path d="M128.70,480.90 L128.70,264.20" fill="none" stroke="#1c1c1c" stroke-width="1.1" stroke-linejoin="miter" stroke-linecap="butt"/>
<path d="M128.70,264.20 L132.20,271.20 L128.70,270.50 L125.20,271.20 Z" fill="#1c1c1c"/>
<path d="M128.70,480.90 L249.20,480.90 L249.20,469.60" fill="none" stroke="#1c1c1c" stroke-width="1.1" stroke-linejoin="miter" stroke-linecap="butt"/>
<path d="M249.20,469.60 L252.70,476.60 L249.20,475.90 L245.70,476.60 Z" fill="#1c1c1c"/>
<path d="M163.60,480.90 L163.60,520.80" fill="none" stroke="#1c1c1c" stroke-width="1.1" stroke-linejoin="miter" stroke-linecap="butt"/>
<path d="M163.60,520.80 L160.10,513.80 L163.60,514.50 L167.10,513.80 Z" fill="#1c1c1c"/>
<path d="M156.50,451.20 L156.50,264.20" fill="none" stroke="#1c1c1c" stroke-width="1.1" stroke-linejoin="miter" stroke-linecap="butt"/>
<path d="M156.50,264.20 L160.00,271.20 L156.50,270.50 L153.00,271.20 Z" fill="#1c1c1c"/>
<path d="M156.50,451.20 L220.60,451.20 L220.60,520.80" fill="none" stroke="#1c1c1c" stroke-width="1.1" stroke-linejoin="miter" stroke-linecap="butt"/>
<path d="M220.60,520.80 L217.10,513.80 L220.60,514.50 L224.10,513.80 Z" fill="#1c1c1c"/>
<path d="M220.60,488.10 L264.60,488.10 L264.60,469.60" fill="none" stroke="#1c1c1c" stroke-width="1.1" stroke-linejoin="miter" stroke-linecap="butt"/>
<path d="M264.60,469.60 L268.10,476.60 L264.60,475.90 L261.10,476.60 Z" fill="#1c1c1c"/>
<text x="141.80" y="535.90" font-size="8.6" textLength="47.00" lengthAdjust="spacingAndGlyphs" fill="#2a2a2a">TOSC2/PC7</text>
<text x="199.00" y="535.90" font-size="8.6" textLength="46.30" lengthAdjust="spacingAndGlyphs" fill="#2a2a2a">TOSC1/PC6</text>
<text x="274.30" y="535.90" font-size="8.6" textLength="26.10" lengthAdjust="spacingAndGlyphs" fill="#2a2a2a">PC5..0</text>
<text x="290.70" y="17.10" font-size="8.6" textLength="24.00" lengthAdjust="spacingAndGlyphs" fill="#2a2a2a">PA7..0</text>
<text x="495.60" y="17.30" font-size="8.6" textLength="25.70" lengthAdjust="spacingAndGlyphs" fill="#2a2a2a">PB7..0</text>
<g transform="translate(358,284) scale(0.04904)" fill="#111" fill-rule="evenodd"><path d="M83,294 L157,86 L241,86 L304,294 L252,294 L242,247 L160,247 L137,294 Z M195,148 L172,212 L224,212 Z"/><path d="M272,86 L324,86 L383,258 L442,86 L494,86 L377,355 Z"/><path d="M492,86 L612,86 C662,86 680,118 664,164 C652,198 628,210 604,216 L642,294 L584,294 L550,226 L528,226 L502,294 L448,294 Z M540,128 L531,182 L588,182 C610,182 620,168 620,152 C620,136 608,128 592,128 Z"/></g>
<text x="393.80" y="298.66" font-size="7.4" textLength="15.40" lengthAdjust="spacingAndGlyphs" fill="#2a2a2a">CPU</text>
</svg>
</body></html>
